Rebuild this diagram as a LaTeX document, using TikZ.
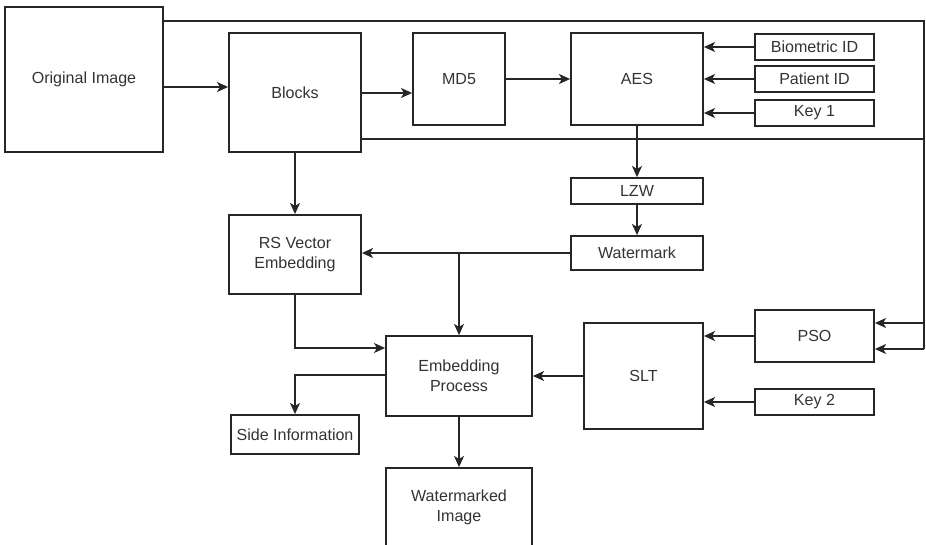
\documentclass[tikz,border=0pt]{standalone}
\usepackage{fontspec}
\setmainfont{Liberation Sans}
\usetikzlibrary{arrows.meta}

\begin{document}
\begin{tikzpicture}[x=0.03cm, y=-0.03cm,
    blk/.style={draw=black!85, line width=1.5pt, text=black!80, align=center, inner sep=0pt, font=\fontsize{13.7}{17}\selectfont},
    wire/.style={draw=black!85, line width=1.5pt},
    arr/.style={wire, -{Stealth[length=9.5pt, width=8.5pt, inset=2.5pt]}}]
    \useasboundingbox (0,0) rectangle (926,545);

    % Top row
    \node[blk, minimum width=4.74cm, minimum height=4.35cm] (orig) at (84,79.5) {Original Image};
    \node[blk, minimum width=3.96cm, minimum height=3.57cm] (blocks) at (295,92.5) {Blocks};
    \node[blk, minimum width=2.76cm, minimum height=2.76cm] (md5) at (459,79) {MD5};
    \node[blk, minimum width=3.96cm, minimum height=2.76cm] (aes) at (637,79) {AES};

    % Inputs of AES
    \node[blk, minimum width=3.57cm, minimum height=0.78cm] (bio) at (814.5,47) {Biometric ID};
    \node[blk, minimum width=3.57cm, minimum height=0.78cm] (pid) at (814.5,79) {Patient ID};
    \node[blk, minimum width=3.57cm, minimum height=0.78cm] (key1) at (814.5,113) {Key 1};

    % Watermark branch
    \node[blk, minimum width=3.96cm, minimum height=0.78cm] (lzw) at (637,191) {LZW};
    \node[blk, minimum width=3.96cm, minimum height=1.02cm] (wmk) at (637,253) {Watermark};
    \node[blk, minimum width=3.96cm, minimum height=2.37cm] (rs) at (295,254.5) {RS Vector\\Embedding};

    % Embedding part
    \node[blk, minimum width=4.38cm, minimum height=2.4cm] (emb) at (459,376) {Embedding\\Process};
    \node[blk, minimum width=3.57cm, minimum height=3.18cm] (slt) at (643.5,376) {SLT};
    \node[blk, minimum width=3.57cm, minimum height=1.56cm] (pso) at (814.5,336) {PSO};
    \node[blk, minimum width=3.57cm, minimum height=0.78cm] (key2) at (814.5,402) {Key 2};
    \node[blk, minimum width=3.84cm, minimum height=1.17cm] (side) at (295,434.5) {Side Information};
    \node[blk, minimum width=4.38cm, minimum height=2.37cm] (wimg) at (459,507.5) {Watermarked\\Image};

    % Helper points
    \coordinate (rt) at (924,21);
    \coordinate (rc) at (924,139);
    \coordinate (rm) at (924,323);
    \coordinate (rb) at (924,349);
    \coordinate (jn) at (459,253);

    % Connections
    \draw[arr] (orig.east |- 0,87) -- (blocks.west |- 0,87);
    \draw[arr] (blocks.east |- 0,93) -- (md5.west |- 0,93);
    \draw[arr] (md5) -- (aes);
    \draw[arr] (bio.west) -- (aes.east |- bio.west);
    \draw[arr] (pid.west) -- (aes.east |- pid.west);
    \draw[arr] (key1.west) -- (aes.east |- key1.west);
    \draw[wire] (orig.east |- rt) -- (rt) -- (rb);
    \draw[wire] (blocks.east |- rc) -- (rc);
    \draw[arr] (rm) -- (pso.east |- rm);
    \draw[arr] (rb) -- (pso.east |- rb);
    \draw[arr] (blocks) -- (rs);
    \draw[arr] (aes) -- (lzw);
    \draw[arr] (lzw) -- (wmk);
    \draw[arr] (wmk.west) -- (rs.east |- wmk.west);
    \draw[arr] (jn) -- (emb.north -| jn);
    \draw[arr] (rs.south) |- (emb.west |- 0,348);
    \draw[arr] (emb.west |- 0,375) -| (side.north);
    \draw[arr] (slt) -- (emb);
    \draw[arr] (pso.west) -- (slt.east |- pso.west);
    \draw[arr] (key2.west) -- (slt.east |- key2.west);
    \draw[arr] (emb) -- (wimg);
\end{tikzpicture}
\end{document}
